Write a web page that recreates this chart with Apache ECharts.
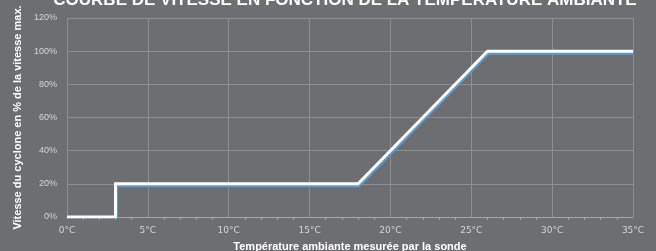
<!DOCTYPE html>
<html><head><meta charset="utf-8">
<script src="https://cdn.jsdelivr.net/npm/echarts@6/dist/echarts.min.js"></script>
<style>html,body{margin:0;padding:0;background:#6d6e71;}#c{width:656px;height:251px;}</style>
</head><body><div id="c"></div>
<script>
const titleText = 'COURBE DE VITESSE EN FONCTION DE LA TEMPÉRATURE AMBIANTE';
const xTitle = 'Température ambiante mesurée par la sonde';
const yTitle = 'Vitesse du cyclone en % de la vitesse max.';
const temps = [0, 3, 3, 18, 26, 35];
const speeds = [0, 0, 20, 20, 100, 100];

const chart = echarts.init(document.getElementById('c'));
const fam = '"Liberation Sans",Arial,sans-serif';
chart.setOption({
  backgroundColor: '#6d6e71',
  animation: false,
  title: {
    text: titleText, left: 340, textAlign: 'center', top: -13,
    textStyle: {color: '#ffffff', fontSize: 17, fontWeight: 'bold', fontFamily: fam}
  },
  grid: {left: 67, right: 23, top: 18, bottom: 34, outerBoundsMode: 'none', containLabel: false},
  xAxis: {
    type: 'value', min: 0, max: 35, interval: 5,
    name: xTitle, nameLocation: 'middle', nameGap: 24,
    nameTextStyle: {color: '#ffffff', fontSize: 11, fontWeight: 'bold', fontFamily: fam},
    axisLine: {show: true, lineStyle: {color: '#a6a7a9', width: 1}},
    axisTick: {show: false},
    minorTick: {show: true, splitNumber: 5, length: 3, lineStyle: {color: '#a6a7a9'}},
    axisLabel: {color: '#d6d6d8', fontSize: 9, fontFamily: 'DejaVu Sans', formatter: '{value}°C', margin: 9},
    splitLine: {show: true, lineStyle: {color: '#8e8f92', width: 1}}
  },
  yAxis: {
    type: 'value', min: 0, max: 120, interval: 20,
    name: yTitle, nameLocation: 'middle', nameGap: 43, nameRotate: 90,
    nameTextStyle: {color: '#ffffff', fontSize: 11, fontWeight: 'bold', fontFamily: fam},
    axisLine: {show: false}, axisTick: {show: false},
    axisLabel: {color: '#d6d6d8', fontSize: 9, fontFamily: fam, formatter: '{value}%', margin: 10},
    splitLine: {show: true, lineStyle: {color: '#8e8f92', width: 1}}
  },
  series: [{
    type: 'line', data: temps.map((t, i) => [t, speeds[i]]),
    symbol: 'none',
    lineStyle: {color: '#ffffff', width: 3, shadowColor: '#5b9bd5', shadowBlur: 0, shadowOffsetX: 1, shadowOffsetY: 2, join: 'miter'}
  }]
});
</script>
</body></html>
